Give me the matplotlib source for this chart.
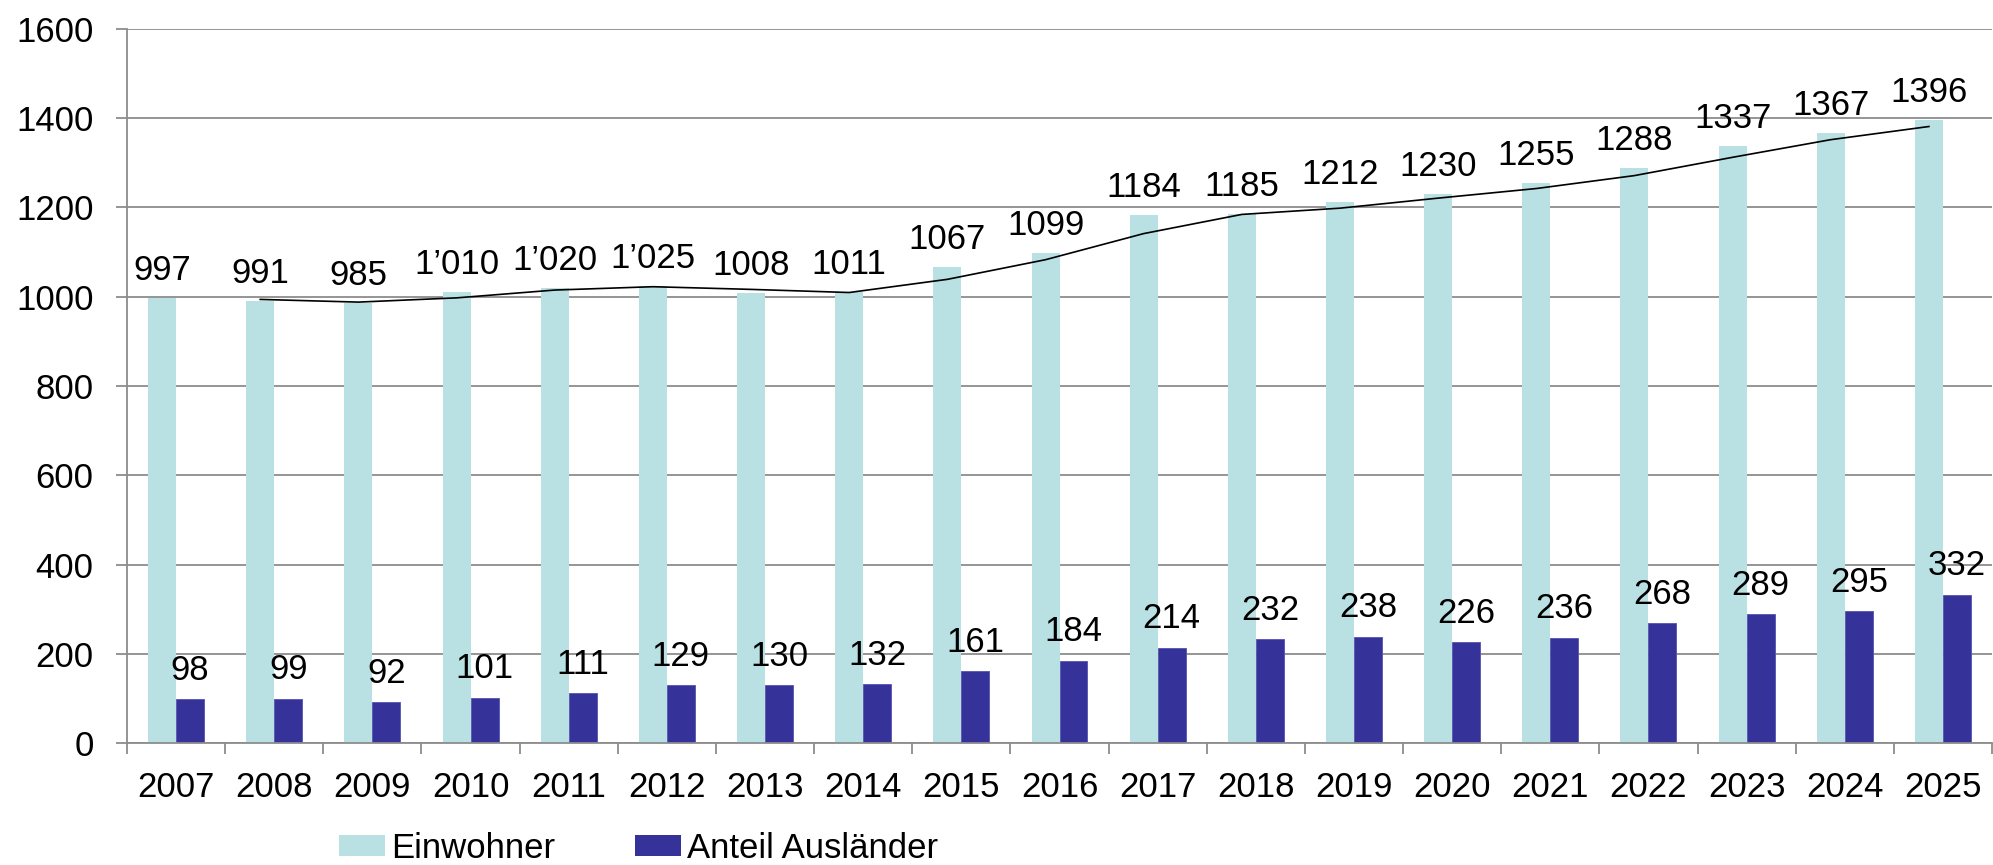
import matplotlib
matplotlib.use("Agg")
import matplotlib.pyplot as plt
import numpy as np
from matplotlib.patches import Patch

plt.rcParams['font.family'] = ['Liberation Sans', 'DejaVu Sans']

years = ['2007', '2008', '2009', '2010', '2011', '2012', '2013', '2014', '2015', '2016',
         '2017', '2018', '2019', '2020', '2021', '2022', '2023', '2024', '2025']
einwohner = [997, 991, 985, 1010, 1020, 1025, 1008, 1011, 1067, 1099,
             1184, 1185, 1212, 1230, 1255, 1288, 1337, 1367, 1396]
einwohner_labels = ['997', '991', '985', '1’010', '1’020', '1’025', '1008', '1011', '1067', '1099',
                    '1184', '1185', '1212', '1230', '1255', '1288', '1337', '1367', '1396']
auslaender = [98, 99, 92, 101, 111, 129, 130, 132, 161, 184,
              214, 232, 238, 226, 236, 268, 289, 295, 332]
# trend line (2-period moving average), starting at 2008
trend = [994, 988, 997.5, 1015, 1022.5, 1016.5, 1009.5, 1039, 1083, 1141.5,
         1184.5, 1198.5, 1221, 1242.5, 1271.5, 1312.5, 1352, 1381.5]

light = '#B9E0E3'
dark = '#35339A'
grid_c = '#8C8C8C'
FS = 25

W, H = 1993, 865
fig = plt.figure(figsize=(W / 100, H / 100), dpi=100)
ax = fig.add_axes([127 / W, 122 / H, (1992 - 127) / W, (743 - 29) / H])

x = np.arange(len(years))
bw = 28 / 98.16
ax.bar(x - bw / 2, einwohner, width=bw, color=light, zorder=2)
ax.bar(x + bw / 2, auslaender, width=bw, color=dark, edgecolor='#5553B0', linewidth=0.6, zorder=2)
ax.plot(x[1:] - bw / 2, trend, color='black', linewidth=1.2, zorder=3)

for xi, v, lab in zip(x, einwohner, einwohner_labels):
    ax.annotate(lab, (xi - bw / 2, v), xytext=(0, 13), textcoords='offset points',
                ha='center', va='baseline', fontsize=FS, zorder=4)
for xi, v in zip(x, auslaender):
    ax.annotate(str(v), (xi + bw / 2, v), xytext=(0, 14), textcoords='offset points',
                ha='center', va='baseline', fontsize=FS, zorder=4)

ax.set_xlim(-0.5, len(years) - 0.5)
ax.set_ylim(0, 1600)
ax.set_yticks(range(0, 1601, 200))
ax.set_yticklabels([str(v) for v in range(0, 1601, 200)], fontsize=FS)
ax.set_xticks(x)
ax.set_xticklabels(years, fontsize=FS)
ax.set_xticks(np.arange(-0.5, len(years), 1), minor=True)
ax.tick_params(axis='x', which='major', length=0, pad=20)
ax.tick_params(axis='x', which='minor', length=8, color=grid_c, width=1.3)
ax.tick_params(axis='y', length=8, color=grid_c, width=1.3, pad=16)
ax.yaxis.grid(True, color=grid_c, linewidth=1.3, zorder=0)
ax.set_axisbelow(True)
for s in ['top', 'right']:
    ax.spines[s].set_visible(False)
for s in ['left', 'bottom']:
    ax.spines[s].set_color(grid_c)
    ax.spines[s].set_linewidth(1.3)

handles = [Patch(facecolor=light), Patch(facecolor=dark)]
fig.legend(handles, ['Einwohner', 'Anteil Ausländer'], loc='center left',
           bbox_to_anchor=(339 / W, 17 / H), ncol=2, frameon=False, fontsize=FS,
           handlelength=1.33, handleheight=0.55, handletextpad=0.17,
           columnspacing=2.3, borderpad=0, borderaxespad=0)

fig.savefig('out.png', dpi=100)
